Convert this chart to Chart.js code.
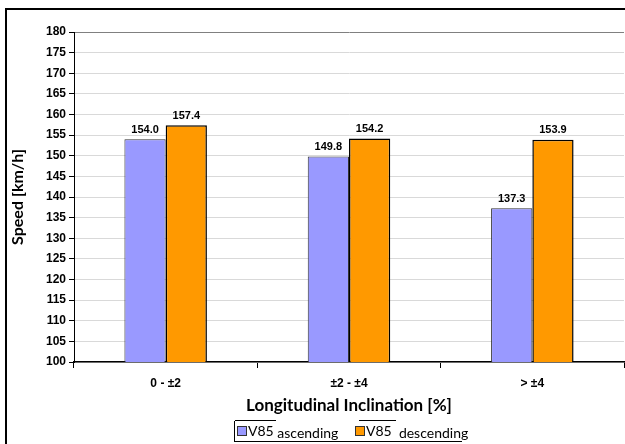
<!DOCTYPE html>
<html>
<head>
<meta charset="utf-8">
<script src="https://cdn.jsdelivr.net/npm/chart.js@4.4.1/dist/chart.umd.min.js"></script>
<style>
    html, body { margin: 0; padding: 0; width: 625px; height: 444px; overflow: hidden; background: #fff; }
    #frame { position: absolute; left: 5px; top: 8px; width: 650px; height: 470px; border: 2px solid #000; box-sizing: border-box; }
    #wrap { position: absolute; left: 0; top: 0; width: 625px; height: 444px; }
    #legend { position: absolute; left: 234px; top: 421px; width: 227px; height: 20px; border-left: 1px solid #000; border-bottom: 1px solid #000;
              font-family: Lato, "Open Sans", sans-serif; font-size: 14px; color: #000; white-space: nowrap; }
    #legend .item { position: absolute; top: 1px; }
    #legend .box { display: inline-block; width: 8px; height: 8px; border: 1px solid #333; margin-right: 1px; vertical-align: 0px; }
    #legend sub { font-size: 14px; vertical-align: -2px; }
    #legend .top { position: absolute; top: -1px; height: 0; border-top: 1px solid #000; }
</style>
</head>
<body>
<div id="frame"></div>
<div id="wrap"><canvas id="myChart" width="625" height="444"></canvas></div>
<div id="legend">
    <div class="top" style="left:0; width:41px;"></div>
    <div class="top" style="left:124px; width:37px;"></div>
    <div class="item" style="left:2px;"><span class="box" style="background:#9999ff"></span>V85 <sub>ascending</sub></div>
    <div class="item" style="left:120px;"><span class="box" style="background:#ff9900"></span>V85&nbsp; <sub>descending</sub></div>
</div>
<script>
const categories = ["0 - \u00b12", "\u00b12 - \u00b14", "> \u00b14"];
const ascending = [154.0, 149.8, 137.3];
const descending = [157.4, 154.2, 153.9];
const yMin = 100;
const yMax = 180;
const yStep = 5;

/* value labels above the bars */
const valueLabels = {
    id: "valueLabels",
    afterDatasetsDraw(chart) {
        const ctx = chart.ctx;
        ctx.save();
        ctx.font = "bold 11px 'Liberation Sans', Arial, sans-serif";
        ctx.fillStyle = "#000";
        ctx.textAlign = "center";
        ctx.textBaseline = "bottom";
        chart.data.datasets.forEach((ds, i) => {
            chart.getDatasetMeta(i).data.forEach((bar, j) => {
                ctx.fillText(ds.data[j].toFixed(1), bar.x, bar.y - 4);
            });
        });
        ctx.restore();
    },
};

const ctx = document.getElementById("myChart").getContext("2d");

const config = {
    type: "bar",
    data: {
        labels: categories,
        datasets: [
            {
                label: "V85 ascending",
                data: ascending,
                backgroundColor: "#9999ff",
                borderColor: "#333",
                borderWidth: 1,
                categoryPercentage: 0.45,
                barPercentage: 1.0,
            },
            {
                label: "V85 descending",
                data: descending,
                backgroundColor: "#ff9900",
                borderColor: "#000",
                borderWidth: 1.5,
                categoryPercentage: 0.45,
                barPercentage: 1.0,
            },
        ],
    },
    options: {
        responsive: false,
        animation: false,
        layout: { padding: { left: 8, top: 32, right: 1, bottom: 22 } },
        plugins: {
            legend: { display: false },
            tooltip: { enabled: false },
        },
        scales: {
            x: {
                afterFit: (scale) => { scale.height = 60; },
                border: { color: "#000", width: 1.5 },
                grid: { drawOnChartArea: false, tickLength: 6, tickColor: "#000" },
                ticks: {
                    color: "#000",
                    padding: 8,
                    font: { family: "'Liberation Sans', Arial, sans-serif", size: 12, weight: "bold" },
                },
                title: {
                    display: true,
                    text: "Longitudinal Inclination [%]",
                    color: "#000",
                    padding: { top: 0, bottom: 6 },
                    font: { family: "Lato, 'Open Sans', sans-serif", size: 17, weight: "bold" },
                },
            },
            y: {
                min: yMin,
                max: yMax,
                afterFit: (scale) => { scale.width = 66; },
                border: { color: "#000", width: 1 },
                grid: {
                    color: (c) => (c.tick && c.tick.value === yMax ? "#808080" : "#d9d9d9"),
                    lineWidth: 1,
                    tickLength: 5,
                    tickColor: "#000",
                },
                ticks: {
                    stepSize: yStep,
                    color: "#000",
                    padding: 3,
                    font: { family: "'Liberation Sans', Arial, sans-serif", size: 12, weight: "bold" },
                },
                title: {
                    display: true,
                    text: "Speed [km/h]",
                    color: "#000",
                    padding: 0,
                    font: { family: "Lato, 'Open Sans', sans-serif", size: 16, weight: "bold" },
                },
            },
        },
    },
    plugins: [valueLabels],
};

const myChart = new Chart(ctx, config);
</script>
</body>
</html>
